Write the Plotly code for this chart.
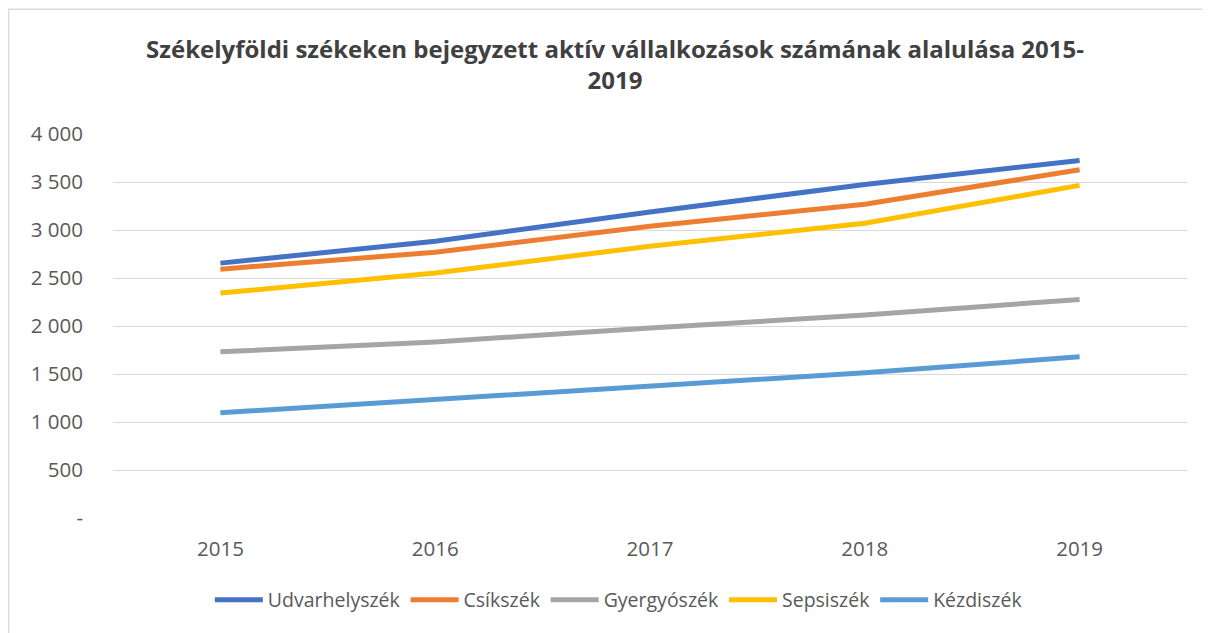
import plotly.graph_objects as go

years = ["2015", "2016", "2017", "2018", "2019"]
udvarhelyszek = [2655, 2883, 3187, 3475, 3725]
csikszek = [2592, 2769, 3039, 3268, 3628]
gyergyoszek = [1731, 1834, 1979, 2114, 2277]
sepsiszek = [2343, 2551, 2831, 3070, 3465]
kezdiszek = [1096, 1231, 1377, 1512, 1679]

series_names = ["Udvarhelyszék", "Csíkszék", "Gyergyószék", "Sepsiszék", "Kézdiszék"]
series_values = [udvarhelyszek, csikszek, gyergyoszek, sepsiszek, kezdiszek]
series_colors = ["#4472C4", "#ED7D31", "#A5A5A5", "#FFC000", "#5B9BD5"]

y_tickvals = [0, 500, 1000, 1500, 2000, 2500, 3000, 3500, 4000]
y_ticktext = ["-", "500", "1 000", "1 500", "2 000", "2 500", "3 000", "3 500", "4 000"]

title_text = "Székelyföldi székeken bejegyzett aktív vállalkozások számának alalulása 2015-<br>2019"

FONT = "Open Sans"
W, H = 1202, 625

fig = go.Figure()
for name, vals, col in zip(series_names, series_values, series_colors):
    fig.add_trace(go.Scatter(
        x=years, y=vals, name=name, mode="lines",
        line=dict(color=col, width=5),
    ))

fig.update_layout(
    width=W, height=H,
    margin=dict(l=105, r=23, t=125.5, b=114.5, autoexpand=False),
    paper_bgcolor="white", plot_bgcolor="white",
    font=dict(family=FONT, color="#595959", size=20),
    title=dict(
        text=title_text, x=0.505, xanchor="center",
        y=1 - 49.5 / H, yanchor="middle",
        font=dict(family=FONT, size=24, color="#404040", weight="bold"),
    ),
    xaxis=dict(
        type="category", range=[-0.5, 4.5], showgrid=False, showline=False, zeroline=False,
        ticks="", tickfont=dict(size=20.5, color="#595959"),
        ticklabelstandoff=16,
    ),
    yaxis=dict(
        range=[0, 4000], tickvals=y_tickvals, ticktext=y_ticktext,
        showgrid=True, gridcolor="#D9D9D9", gridwidth=1.3,
        zeroline=False, showline=False, ticks="",
        tickfont=dict(size=20.5, color="#595959"),
        ticklabelstandoff=29,
    ),
    legend=dict(
        orientation="h", x=0.471, xanchor="center", y=-0.214, yanchor="middle",
        font=dict(size=19.5, color="#595959"),
        itemwidth=48, tracegroupgap=0,
    ),
    showlegend=True,
)

fig.add_shape(
    type="rect", xref="paper", yref="paper",
    x0=(0.5 - 105) / 1074, x1=1.05, y0=-0.35, y1=(510.5 - 0.5) / 385,
    line=dict(color="#D9D9D9", width=1.5), fillcolor="rgba(0,0,0,0)",
    layer="below",
)

fig.write_html("out.html")
